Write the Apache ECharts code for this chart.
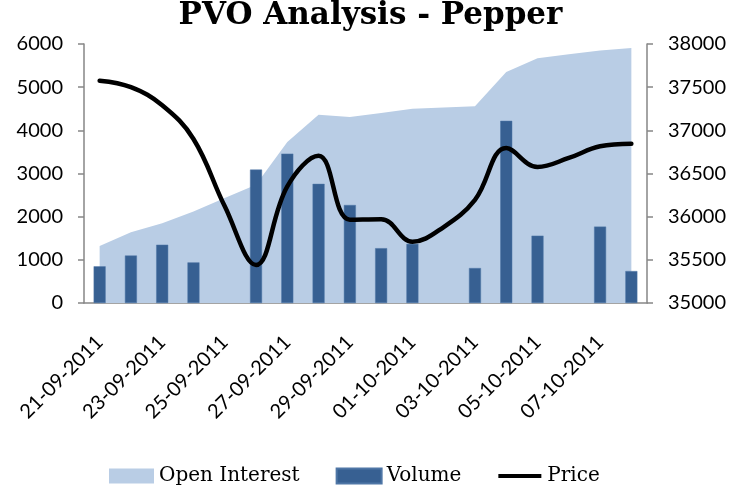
<!DOCTYPE html>
<html>
<head>
<meta charset="utf-8">
<script src="https://cdn.jsdelivr.net/npm/echarts@6/dist/echarts.min.js"></script>
<style>
  html, body { margin: 0; padding: 0; background: #fff; }
  #main { width: 741px; height: 489px; }
</style>
</head>
<body>
<div id="main"></div>
<script>
// categories: one per day
var dates = [
  "21-09-2011", "22-09-2011", "23-09-2011", "24-09-2011", "25-09-2011", "26-09-2011",
  "27-09-2011", "28-09-2011", "29-09-2011", "30-09-2011", "01-10-2011", "02-10-2011",
  "03-10-2011", "04-10-2011", "05-10-2011", "06-10-2011", "07-10-2011", "08-10-2011"
];
var openInterest = [1320, 1640, 1850, 2120, 2430, 2740, 3730, 4360, 4310, 4400,
  4500, 4530, 4560, 5350, 5670, 5760, 5850, 5910];
var volume = [850, 1100, 1350, 940, null, 3090, 3460, 2760, 2270, 1270,
  1370, null, 810, 4220, 1560, null, 1770, 740];
var price = [37575, 37500, 37290, 36900, 36120, 35440, 36350, 36705, 35965, 35970,
  35710, 35880, 36195, 36795, 36575, 36680, 36815, 36845];

var myChart = echarts.init(document.getElementById("main"));

var axisGray = "#868686";
var labelFont = "Lato";

// plain numbers, no thousands separator
function plain(v) {
  return String(v);
}

var option = {
  backgroundColor: "#fff",
  animation: false,
  title: {
    text: "PVO Analysis - Pepper",
    left: "center",
    top: -5,
    textStyle: {
      fontFamily: "DejaVu Serif",
      fontWeight: "bold",
      fontSize: 31,
      color: "#000",
    },
  },
  legend: {
    left: 104,
    top: 461,
    itemWidth: 45,
    itemHeight: 15,
    itemGap: 36,
    textStyle: {
      fontFamily: "DejaVu Serif",
      fontSize: 20,
      color: "#000",
    },
    data: [
      { name: "Open Interest", icon: "rect" },
      { name: "Volume", icon: "rect" },
      // thin bar centred in the 45x15 box (the outer moves keep the box size)
      { name: "Price", icon: "path://M0,0L0,0M1,5.5L44,5.5L44,9.5L1,9.5ZM45,15L45,15" },
    ],
  },
  grid: {
    left: 84,
    right: 94,
    top: 44,
    bottom: 186,
  },
  xAxis: {
    type: "category",
    data: dates,
    boundaryGap: true,
    axisLine: { lineStyle: { color: axisGray, width: 1.5 } },
    axisTick: { interval: 1, length: 6, lineStyle: { color: axisGray, width: 1.5 } },
    axisLabel: {
      interval: 1,
      rotate: 45,
      margin: 36,
      fontFamily: labelFont,
      fontSize: 20,
      color: "#000",
    },
  },
  yAxis: [
    {
      type: "value",
      min: 0,
      max: 6000,
      interval: 1000,
      splitLine: { show: false },
      axisLine: { show: true, lineStyle: { color: axisGray, width: 1.5 } },
      axisTick: { show: true, length: 6, lineStyle: { color: axisGray, width: 1.5 } },
      axisLabel: { margin: 21, fontFamily: labelFont, fontSize: 20, color: "#000", formatter: plain },
    },
    {
      type: "value",
      min: 35000,
      max: 38000,
      interval: 500,
      position: "right",
      splitLine: { show: false },
      axisLine: { show: true, lineStyle: { color: axisGray, width: 1.5 } },
      axisTick: { show: true, length: 6, lineStyle: { color: axisGray, width: 1.5 } },
      axisLabel: { margin: 21, fontFamily: labelFont, fontSize: 20, color: "#000", formatter: plain },
    },
  ],
  series: [
    {
      name: "Open Interest",
      type: "line",
      yAxisIndex: 0,
      z: 1,
      data: openInterest,
      symbol: "none",
      lineStyle: { width: 0, color: "#B9CDE5" },
      itemStyle: { color: "#B9CDE5" },
      areaStyle: { color: "#B9CDE5", opacity: 1 },
    },
    {
      name: "Volume",
      type: "bar",
      yAxisIndex: 0,
      z: 3,
      data: volume,
      barWidth: 12,
      itemStyle: { color: "#376092", borderColor: "#4f76a6", borderWidth: 0.5 },
    },
    {
      name: "Price",
      type: "line",
      yAxisIndex: 1,
      z: 4,
      data: price,
      smooth: 0.4,
      symbol: "none",
      lineStyle: { color: "#000", width: 4.5, cap: "round" },
      itemStyle: { color: "#000" },
    },
  ],
};

myChart.setOption(option);
</script>
</body>
</html>
